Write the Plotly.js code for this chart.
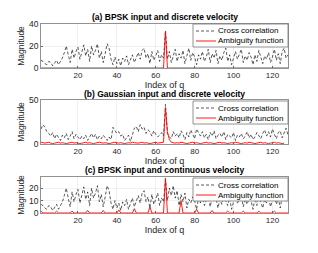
<!DOCTYPE html>
<html><head><meta charset="utf-8">
<script src="https://cdn.plot.ly/plotly-3.0.1.min.js"></script>
<style>html,body{margin:0;padding:0;background:#fff}#plot{width:318px;height:253px}</style>
</head><body><div id="plot"></div>
<script>
const q = Array.from({length:128},(_,i)=>i+1);

const crossA = [7,6,4,3,6,5,2,4,7,3, 6,9,14,20,12,5,17,9,15,19, 8,14,21,11,17,6,20,12,16,22,
 9,15,5,13,22,18,8,3,10,4, 8,2,9,6,11,3,7,12,5,10, 14,8,16,18,9,13,4,15,7,11,
 16,6,12,9,34,8,15,5,11,17, 6,13,9,16,4,11,18,7,14,10, 3,12,8,15,6,10,17,5,13,9,
 16,4,11,7,14,18,6,12,3,9, 15,8,13,17,5,11,7,14,10,3, 12,6,16,9,4,11,8,14,5,10,
 17,7,13,4,15,18,9,12];
const ambA = q.map(v => v===65 ? 33 : 0);

const crossB = [17,22,19,14,12,9,13,6,11,8, 4,10,7,12,5,9,14,6,11,8, 5,9,6,10,4,8,12,7,11,5,
 9,6,10,7,4,8,5,19,16,12, 14,9,11,4,7,10,3,12,18,20, 14,22,17,19,12,16,14,9,15,11,
 8,10,13,9,45,12,8,6,14,9, 12,7,15,11,5,13,8,16,10,6, 17,12,9,14,7,11,5,13,9,15,
 6,10,12,8,14,5,11,9,7,13, 4,10,8,12,6,9,14,7,11,5, 8,13,10,6,12,16,9,14,8,17,
 11,6,13,15,7,12,18,10];
const ambB = [2,1.5,1,1.5,2,1,0.5,1,1.5,2, 1,1.5,1,0.5,1,1.5,2,1,1.5,1, 0.5,1,1.5,2,1,1.5,1,0.5,1,1.5,
 2,1.5,1,1.5,1,0.5,1,1.5,2,1.5, 1,1.5,1,0.5,1,1.5,1,2,1.5,1, 1,1.5,2,1,1.5,1,0.5,1,1.5,2,
 1,1.5,2,2,41,14,5,2,1.5,1, 1.5,1,2,1.5,1,0.5,1,1.5,2,1, 1.5,1,0.5,1,1.5,2,1,1.5,1,0.5,
 1,1.5,2,1,1.5,1,0.5,1,1.5,1, 2,1.5,1,0.5,1,1.5,1,2,1.5,1, 0.5,1,1.5,2,1,1.5,1,0.5,
 1,1.5,2,1,1.5,1,0.5,1];

const crossC = [7,6,4,3,6,5,2,4,7,3, 6,9,14,20,12,5,17,9,15,19, 8,14,21,11,17,6,20,12,16,22,
 9,15,5,13,22,18,8,3,10,4, 8,2,9,6,11,3,7,12,5,10, 14,8,16,18,9,13,4,15,7,11,
 16,6,12,9,27,10,20,14,22,12, 18,6,15,9,16,4,11,8,13,10, 3,12,8,15,6,10,14,5,13,9,
 12,4,11,7,14,10,6,12,3,9, 13,8,11,14,5,11,7,12,10,3, 12,6,14,9,4,11,8,13,5,10,
 14,7,12,4,13,15,9,12];
const ambC = [1.5,0,0,0,0,0,0,0,1.5,0, 0,0,0,0,0,0,1.5,0,0,0, 0,0,0,0,2,0,0,0,0,0,
 0,0,2,0,0,0,0,0,0,0, 2.5,0,0,0,0,0,0,0,3.5,0, 0,0,0,0,0,0,5,0,0,0,
 0,0,0,0,28,0,0,0,0,0, 0,0,10,0,0,0,0,0,0,0, 3,0,0,0,0,0,0,0,2,0,
 0,0,0,0,0,0,1.5,0,0,0, 0,0,0,0,1.5,0,0,0,0,0, 0,0,1.5,0,0,0,0,0,0,0,
 1.5,0,0,0,0,0,0,0];

const seriesNames = ['Cross correlation','Ambiguity function'];
const panelTitles = ['(a) BPSK input and discrete velocity','(b) Gaussian input and discrete velocity','(c) BPSK input and continuous velocity'];

const FONT = "Liberation Sans, Arial, Helvetica, sans-serif";
const CROSS = {color:'#111', width:0.7, dash:'3px,2px'};
const AMB = {color:'#ff0000', width:0.9, dash:'solid'};
function tr(y, name, ax, line){
  return {x:q, y:y, name:name, type:'scatter', mode:'lines',
    xaxis:'x'+ax, yaxis:'y'+ax, showlegend:false, line:line};
}
const data = [
  tr(crossA,seriesNames[0],'',CROSS), tr(ambA,seriesNames[1],'',AMB),
  tr(crossB,seriesNames[0],'2',CROSS), tr(ambB,seriesNames[1],'2',AMB),
  tr(crossC,seriesNames[0],'3',CROSS), tr(ambC,seriesNames[1],'3',AMB),
];

const H = 253, L = 41, W = 247;
const dom = (t,b)=>[1-b/H, 1-t/H];
function xax(anchor){
  return {anchor:anchor, domain:[0,1], range:[1,128], tickvals:[20,40,60,80,100,120],
    ticks:'inside', ticklen:2, tickcolor:'#666', showline:true, mirror:true, linecolor:'#777', linewidth:0.8,
    showgrid:true, gridcolor:'#e6e6e6', gridwidth:0.6, zeroline:false,
    tickfont:{size:8, color:'#262626', family:FONT},
    title:{text:'Index of q', font:{size:9, color:'#262626', family:FONT}, standoff:0}, automargin:false};
}
function yax(anchor, d, range, ticks){
  return {anchor:anchor, domain:d, range:range, tickvals:ticks,
    ticks:'inside', ticklen:2, tickcolor:'#666', showline:true, mirror:true, linecolor:'#777', linewidth:0.8,
    showgrid:true, gridcolor:'#e6e6e6', gridwidth:0.6, zeroline:false,
    tickfont:{size:8.5, color:'#262626', family:FONT},
    title:{text:'Magnitude', font:{size:8.5, color:'#262626', family:FONT}, standoff:2}, automargin:false};
}
// compact legend boxes (MATLAB style)
const px = v => (v-L)/W, py = v => 1-v/H;
const shapes = [], annotations = [];
[24,101,178].forEach((T,i)=>{
  shapes.push({type:'rect', xref:'paper', yref:'paper', x0:px(193), x1:px(288), y0:py(T+23), y1:py(T),
    fillcolor:'#fff', line:{color:'#777', width:0.8}, layer:'above'});
  [[T+7, CROSS],[T+17, AMB]].forEach((r,j)=>{
    shapes.push({type:'line', xref:'paper', yref:'paper', x0:px(196), x1:px(216), y0:py(r[0]), y1:py(r[0]),
      line:{color:r[1].color, width:r[1].width, dash:r[1].dash}, layer:'above'});
    annotations.push({text:seriesNames[j], xref:'paper', yref:'paper', x:px(216), y:py(r[0]),
      xanchor:'left', yanchor:'middle', showarrow:false, font:{size:8, color:'#000', family:FONT}});
  });
});
[17,94,170].forEach((y,i)=>annotations.push({text:'<b>'+panelTitles[i]+'</b>', xref:'paper', yref:'paper', x:0.5, y:py(y),
  xanchor:'center', yanchor:'middle', showarrow:false, font:{size:8.5, color:'#000', family:FONT}}));

const layout = {
  width:318, height:253, margin:{l:L, r:30, t:0, b:0}, paper_bgcolor:'#fff', plot_bgcolor:'#fff',
  font:{family:FONT}, showlegend:false,
  xaxis: xax('y'), yaxis: yax('x', dom(24,68), [0,40], [0,20,40]),
  xaxis2: xax('y2'), yaxis2: yax('x2', dom(100,144), [0,50], [0,50]),
  xaxis3: xax('y3'), yaxis3: yax('x3', dom(177,213), [0,29], [0,10,20]),
  shapes: shapes, annotations: annotations
};
Plotly.newPlot('plot', data, layout, {displayModeBar:false, staticPlot:true});
</script></body></html>
